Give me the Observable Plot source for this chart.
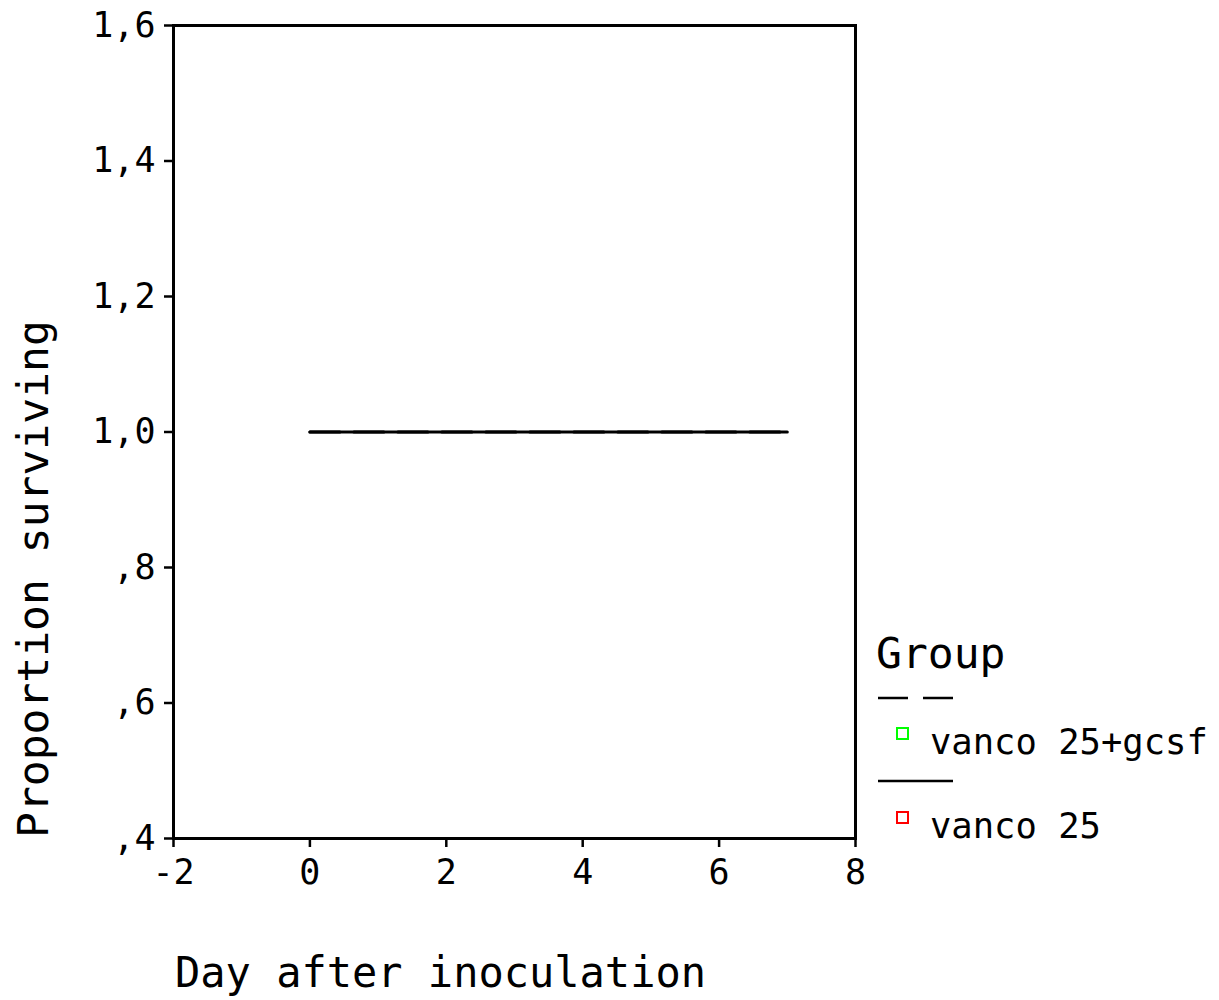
<!DOCTYPE html>
<html>
<head>
<meta charset="utf-8">
<script src="https://cdn.jsdelivr.net/npm/d3@7"></script>
<script src="https://cdn.jsdelivr.net/npm/@observablehq/plot@0.6"></script>
<style>
  html, body { margin: 0; padding: 0; background: #fff; }
  #chart svg { display: block; }
</style>
</head>
<body>
<div id="chart"></div>
<script>
// Data (Kaplan-Meier survival steps)
const groups = ["vanco 25+gcsf", "vanco 25"];
const groupColors = ["#00ff00", "#ff0000"];
const groupDash = ["30,14", null];
const days = [0, 7];
const survGcsf = [1.0, 1.0];
const survVanco = [1.0, 1.0];
const xTicks = [-2, 0, 2, 4, 6, 8];
const yTicks = [0.4, 0.6, 0.8, 1.0, 1.2, 1.4, 1.6];
const xLabel = "Day after inoculation";
const yLabel = "Proportion surviving";
const legendTitle = "Group";

const rows = [];
days.forEach((d, i) => rows.push({day: d, surv: survVanco[i], group: groups[1]}));
days.forEach((d, i) => rows.push({day: d, surv: survGcsf[i], group: groups[0]}));

const font = "DejaVu Sans Mono, monospace";
const W = 1219, H = 1000;
const mL = 173, mR = 364, mT = 25, mB = 162;

const fmtY = d => d3.format(".1f")(d).replace(".", ",").replace(/^0/, "");

const chart = Plot.plot({
  width: W, height: H,
  marginLeft: mL, marginRight: mR, marginTop: mT, marginBottom: mB,
  style: {fontFamily: font, background: "#fff"},
  x: {domain: [-2, 8]},
  y: {domain: [0.4, 1.6]},
  marks: [
    Plot.frame({stroke: "#000", strokeWidth: 3}),
    Plot.axisY({ticks: yTicks, tickFormat: fmtY, tickSize: 9, tickPadding: 9, fontSize: 35, label: null, stroke: "#000", strokeWidth: 2.5, color: "#000"}),
    Plot.axisX({ticks: xTicks, tickFormat: d => d < 0 ? "-" + Math.abs(d) : String(d), tickSize: 9, tickPadding: 12, fontSize: 35, label: null, stroke: "#000", strokeWidth: 2.5, color: "#000"}),
    Plot.line(rows.filter(r => r.group === groups[1]), {x: "day", y: "surv", curve: "step-after", stroke: "#000", strokeWidth: 3}),
    Plot.line(rows.filter(r => r.group === groups[0]), {x: "day", y: "surv", curve: "step-after", stroke: "#000", strokeWidth: 3, strokeDasharray: groupDash[0]})
  ]
});

document.getElementById("chart").appendChild(chart);

const svg = d3.select(chart);
// Axis titles
svg.append("text")
  .attr("x", mL + 2).attr("y", 987)
  .attr("text-anchor", "start")
  .attr("font-family", font).attr("font-size", 42).attr("fill", "#000")
  .text(xLabel);
svg.append("text")
  .attr("transform", `translate(48, ${H - mB}) rotate(-90)`)
  .attr("font-family", font).attr("font-size", 43).attr("fill", "#000")
  .attr("text-anchor", "start")
  .text(yLabel);

// Legend
const lg = svg.append("g").attr("text-anchor", "start");
lg.append("text").attr("x", 876).attr("y", 668)
  .attr("font-family", font).attr("font-size", 43).attr("fill", "#000").text(legendTitle);
const itemY = [727, 811];
const lineY = [698, 781];
groups.forEach((g, i) => {
  lg.append("line").attr("x1", 878).attr("x2", 953).attr("y1", lineY[i]).attr("y2", lineY[i])
    .attr("stroke", "#000").attr("stroke-width", 2.5)
    .attr("stroke-dasharray", groupDash[i] ? "30,15" : null);
  lg.append("rect").attr("x", 897).attr("y", itemY[i] + 1).attr("width", 11).attr("height", 11)
    .attr("fill", "none").attr("stroke", groupColors[i]).attr("stroke-width", 2);
  lg.append("text").attr("x", 930).attr("y", itemY[i] + 27)
    .attr("font-family", font).attr("font-size", 35.5).attr("fill", "#000").text(g);
});
</script>
</body>
</html>
